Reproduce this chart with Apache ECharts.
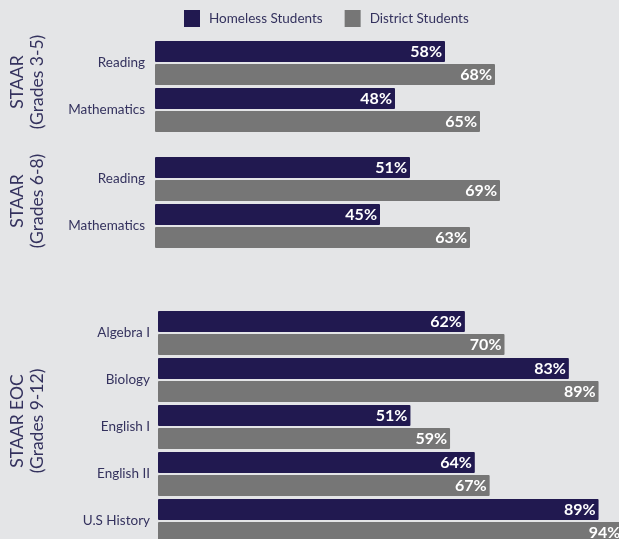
<!DOCTYPE html>
<html>
<head>
<meta charset="utf-8">
<script src="https://cdn.jsdelivr.net/npm/echarts@6/dist/echarts.min.js"></script>
<style>
html,body{margin:0;padding:0;background:#e4e5e7;}
#c{width:619px;height:539px;}
</style>
</head>
<body>
<div id="c"></div>
<script>
const seriesNames = ['Homeless Students', 'District Students'];
const groupTitles = ['STAAR\n(Grades 3-5)', 'STAAR\n(Grades 6-8)', 'STAAR EOC\n(Grades 9-12)'];
const cats1 = ['Reading', 'Mathematics'];
const cats2 = ['Reading', 'Mathematics'];
const cats3 = ['Algebra I', 'Biology', 'English I', 'English II', 'U.S History'];
const homeless1 = [58, 48];
const district1 = [68, 65];
const homeless2 = [51, 45];
const district2 = [69, 63];
const homeless3 = [62, 83, 51, 64, 89];
const district3 = [70, 89, 59, 67, 94];

const NAVY = '#211950', GRAY = '#767676', TXT = '#34325e';
const FONT = 'Lato, "Open Sans", sans-serif';

const grids = [
  {left: 155, top: 39.5, width: 500, height: 94, outerBoundsMode: 'none', containLabel: false},
  {left: 155, top: 155.5, width: 500, height: 94, outerBoundsMode: 'none', containLabel: false},
  {left: 158, top: 309.5, width: 495, height: 235, outerBoundsMode: 'none', containLabel: false}
];
const cats = [cats1, cats2, cats3];
const hom = [homeless1, homeless2, homeless3];
const dis = [district1, district2, district3];
const margins = [10, 10, 8];

const chart = echarts.init(document.getElementById('c'), null, {renderer: 'canvas'});
const xAxis = [], yAxis = [], series = [];
grids.forEach((g, i) => {
  xAxis.push({type: 'value', gridIndex: i, min: 0, max: 100, show: false});
  yAxis.push({
    type: 'category', gridIndex: i, data: cats[i], inverse: true,
    axisLine: {show: false}, axisTick: {show: false}, splitLine: {show: false},
    axisLabel: {color: TXT, fontSize: 13.5, fontFamily: FONT, margin: margins[i]}
  });
  [hom[i], dis[i]].forEach((d, k) => {
    series.push({
      type: 'bar', name: seriesNames[k], xAxisIndex: i, yAxisIndex: i, data: d,
      barWidth: 21, barGap: '10%',
      itemStyle: {color: k === 0 ? NAVY : GRAY, borderRadius: 1},
      label: {
        show: true, position: 'insideRight', formatter: '{c}%', distance: 3,
        color: '#ffffff', fontSize: 16, fontWeight: 'bold', fontFamily: FONT
      },
      animation: false
    });
  });
});

const centers = [82, 201, 421];
const graphic = groupTitles.map((t, i) => ({
  type: 'text', x: 27, y: centers[i], rotation: Math.PI / 2,
  style: {
    text: t, fill: TXT, fontSize: 17.5, fontFamily: FONT,
    align: 'center', verticalAlign: 'middle', lineHeight: 20
  }
}));

chart.setOption({
  backgroundColor: '#e4e5e7',
  animation: false,
  legend: {
    data: seriesNames, left: 184, top: 10, padding: 0,
    itemWidth: 16, itemHeight: 17, itemGap: 22,
    icon: 'rect',
    textStyle: {color: TXT, fontSize: 13.5, fontFamily: FONT, padding: [0, 0, 0, 4]}
  },
  grid: grids,
  xAxis: xAxis,
  yAxis: yAxis,
  series: series,
  graphic: graphic
});
</script>
</body>
</html>
